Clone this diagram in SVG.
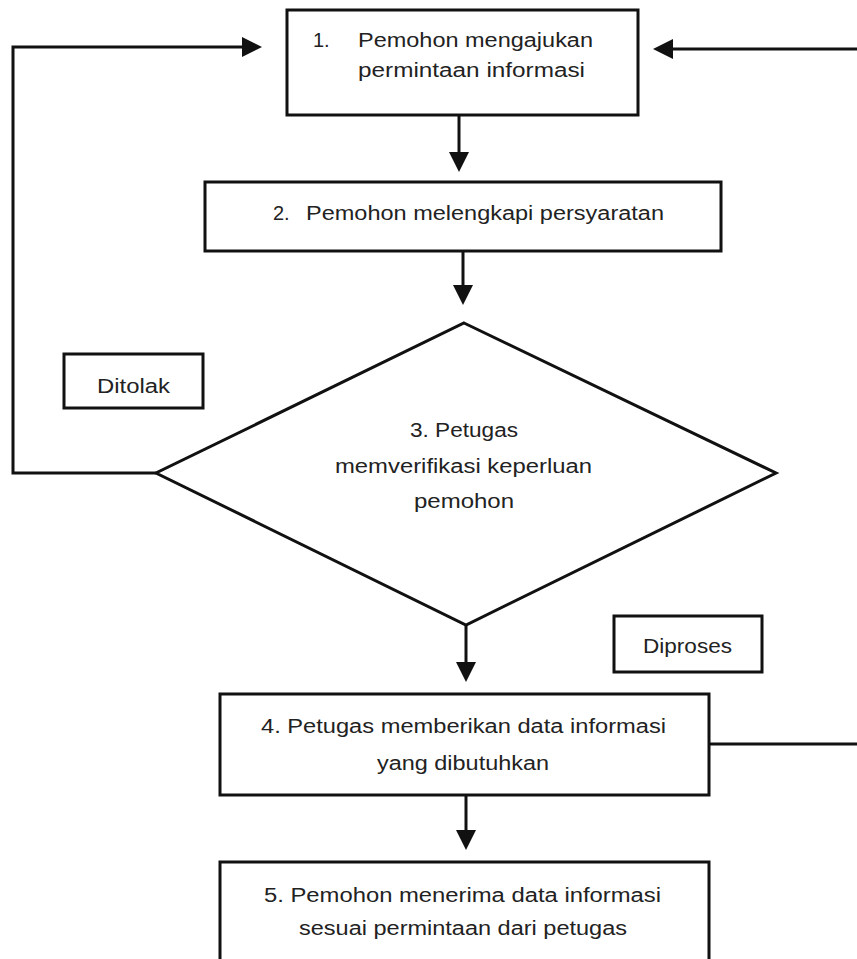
<svg xmlns="http://www.w3.org/2000/svg" width="857" height="959" viewBox="0 0 857 959">
<style>
.box{fill:#fff;stroke:#111;stroke-width:3}
.line{fill:none;stroke:#111;stroke-width:3}
.t{font-family:"Liberation Sans",Arial,sans-serif;font-size:20px;fill:#222}
</style>
<defs>
<marker id="ah" markerUnits="userSpaceOnUse" markerWidth="20" markerHeight="20" refX="0" refY="10" orient="auto" viewBox="0 0 20 20">
<path d="M0,0 L20,10 L0,20 z" fill="#111"/>
</marker>
</defs>
<rect width="857" height="959" fill="#fff"/>
<g id="connectors">
<path class="line" d="M156,473 H13 V47 H242" marker-end="url(#ah)"/>
<path class="line" d="M709,744 H870 V49 H673" marker-end="url(#ah)"/>
<path class="line" d="M459,115 V152" marker-end="url(#ah)"/>
<path class="line" d="M463,251 V285" marker-end="url(#ah)"/>
<path class="line" d="M466,625 V662" marker-end="url(#ah)"/>
<path class="line" d="M466,796 V830" marker-end="url(#ah)"/>
</g>
<g id="n1">
<rect class="box" x="287" y="10" width="351" height="105"/>
<text class="t" x="313" y="47">1.</text>
<text class="t" x="358" y="47" textLength="235" lengthAdjust="spacingAndGlyphs">Pemohon mengajukan</text>
<text class="t" x="358" y="77" textLength="227" lengthAdjust="spacingAndGlyphs">permintaan informasi</text>
</g>
<g id="n2">
<rect class="box" x="205" y="182" width="516" height="69"/>
<text class="t" x="273" y="220">2.</text>
<text class="t" x="306" y="220" textLength="358" lengthAdjust="spacingAndGlyphs">Pemohon melengkapi persyaratan</text>
</g>
<g id="n3">
<polygon class="box" points="464,323 776,473 466,625 156,473"/>
<text class="t" x="410" y="437" textLength="108" lengthAdjust="spacingAndGlyphs">3. Petugas</text>
<text class="t" x="335" y="473" textLength="257" lengthAdjust="spacingAndGlyphs">memverifikasi keperluan</text>
<text class="t" x="414" y="508" textLength="100" lengthAdjust="spacingAndGlyphs">pemohon</text>
</g>
<g id="ditolak">
<rect class="box" x="64" y="354" width="139" height="54"/>
<text class="t" x="97" y="393" textLength="73" lengthAdjust="spacingAndGlyphs">Ditolak</text>
</g>
<g id="diproses">
<rect class="box" x="614" y="616" width="148" height="56"/>
<text class="t" x="643" y="653" textLength="89" lengthAdjust="spacingAndGlyphs">Diproses</text>
</g>
<g id="n4">
<rect class="box" x="220" y="694" width="489" height="101"/>
<text class="t" x="261" y="733" textLength="405" lengthAdjust="spacingAndGlyphs">4. Petugas memberikan data informasi</text>
<text class="t" x="377" y="770" textLength="172" lengthAdjust="spacingAndGlyphs">yang dibutuhkan</text>
</g>
<g id="n5">
<rect class="box" x="220" y="862" width="489" height="120"/>
<text class="t" x="264" y="902" textLength="397" lengthAdjust="spacingAndGlyphs">5. Pemohon menerima data informasi</text>
<text class="t" x="299" y="935" textLength="328" lengthAdjust="spacingAndGlyphs">sesuai permintaan dari petugas</text>
</g>
</svg>
